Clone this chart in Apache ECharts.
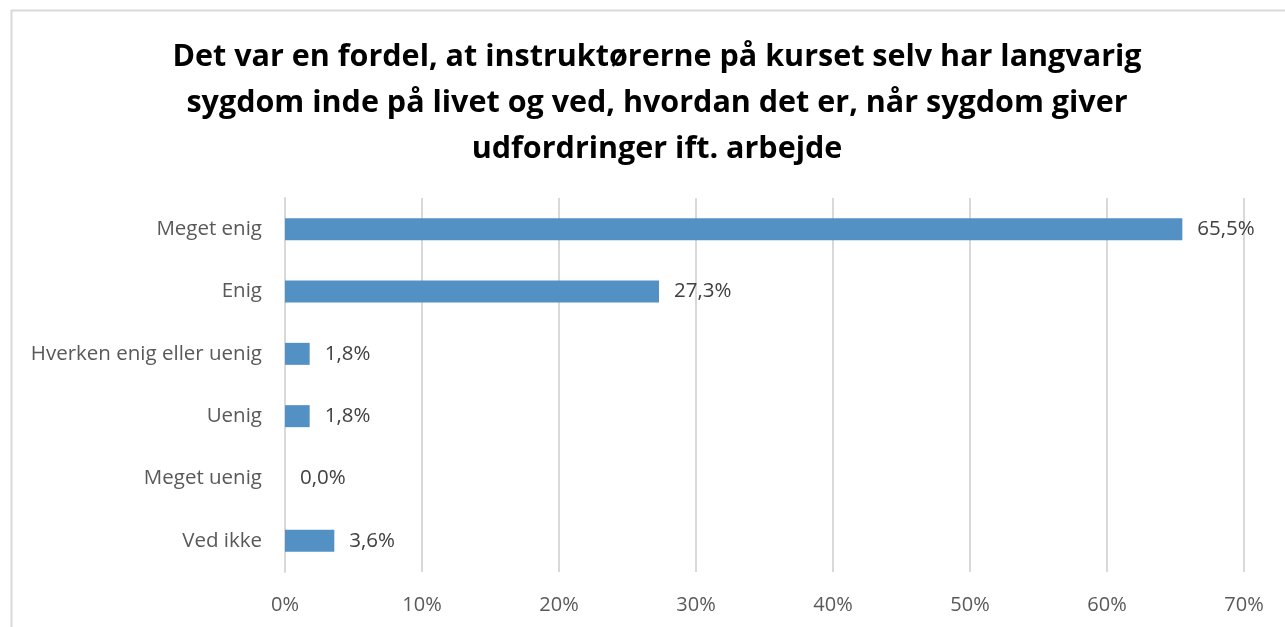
<!DOCTYPE html>
<html>
<head>
<meta charset="utf-8">
<script src="https://cdn.jsdelivr.net/npm/echarts@6/dist/echarts.min.js"></script>
<style>
  html, body { margin: 0; padding: 0; background: #fff; }
  #main { width: 1285px; height: 627px; }
</style>
</head>
<body>
<div id="main"></div>
<script>
var titleText = "Det var en fordel, at instruktørerne på kurset selv har langvarig\nsygdom inde på livet og ved, hvordan det er, når sygdom giver\nudfordringer ift. arbejde";
var categories = ["Meget enig", "Enig", "Hverken enig eller uenig", "Uenig", "Meget uenig", "Ved ikke"];
var values = [65.5, 27.3, 1.8, 1.8, 0.0, 3.6];
var tickValues = [0, 10, 20, 30, 40, 50, 60, 70];

var myChart = echarts.init(document.getElementById("main"));

function pct(v) {
  return v.toFixed(1).replace(".", ",") + "%";
}

var option = {
  backgroundColor: "#fff",
  animation: false,
  // grå ramme om diagrammet (fortsætter ud over billedet nederst/højre)
  graphic: [{
    type: "rect",
    left: 9, top: 8,
    shape: { width: 1300, height: 700 },
    style: { fill: "none", stroke: "#d9d9d9", lineWidth: 2 },
    silent: true
  }],
  title: {
    text: titleText,
    left: 652,
    textAlign: "center",
    top: 29,
    textStyle: {
      fontFamily: "Open Sans",
      fontWeight: "bold",
      fontSize: 30.5,
      lineHeight: 46,
      color: "#000"
    }
  },
  grid: { left: 285, right: 41, top: 198, bottom: 55 },
  xAxis: {
    type: "value",
    min: 0, max: 70, interval: 10,
    axisLine: { show: false },
    axisTick: { show: false },
    splitLine: { lineStyle: { color: "#d9d9d9", width: 2 } },
    axisLabel: {
      margin: 23,
      color: "#595959",
      fontFamily: "Open Sans",
      fontSize: 20,
      formatter: function (v) { return tickValues.indexOf(v) >= 0 ? v + "%" : ""; }
    }
  },
  yAxis: {
    type: "category",
    inverse: true,
    data: categories,
    axisLine: { show: true, lineStyle: { color: "#d9d9d9", width: 2 } },
    axisTick: { show: false },
    axisLabel: {
      margin: 23,
      color: "#595959",
      fontFamily: "Open Sans",
      fontSize: 20.5
    }
  },
  series: [{
    type: "bar",
    data: values,
    barWidth: 22,
    itemStyle: { color: "#5390c3" },
    label: {
      show: true,
      position: "right",
      distance: 15,
      color: "#404040",
      fontFamily: "Open Sans",
      fontSize: 20.5,
      formatter: function (p) { return pct(p.value); }
    }
  }]
};

myChart.setOption(option);
</script>
</body>
</html>
